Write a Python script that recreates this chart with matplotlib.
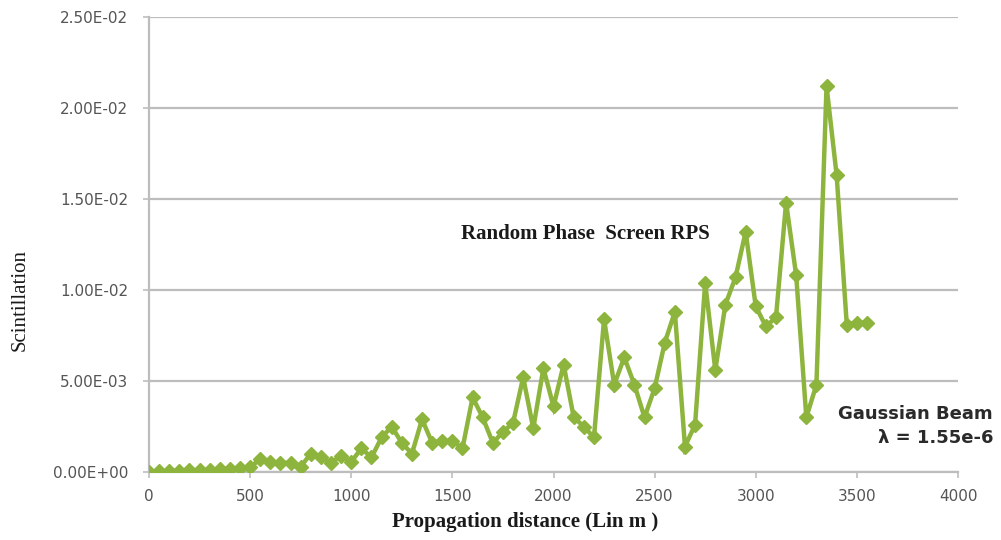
import matplotlib
matplotlib.use("Agg")
import matplotlib.pyplot as plt
from matplotlib.ticker import FuncFormatter, MultipleLocator

# Propagation distance (m) and scintillation index
distance = list(range(0, 3600, 50))
scintillation = [
    0.0, 0.00003, 0.00005, 0.00007, 0.0001, 0.0001, 0.00012, 0.00015, 0.00018, 0.0002,
    0.00027, 0.0007, 0.00055, 0.0005, 0.0005, 0.0003, 0.001, 0.0008, 0.0005, 0.0009,
    0.00055, 0.0013, 0.0008, 0.0019, 0.0025, 0.0016, 0.001, 0.0029, 0.0016, 0.0017,
    0.0017, 0.0013, 0.0041, 0.003, 0.0016, 0.0022, 0.0027, 0.0052, 0.0024, 0.0057,
    0.0036, 0.0059, 0.003, 0.0025, 0.0019, 0.0084, 0.0048, 0.0063, 0.0048, 0.003,
    0.0046, 0.0071, 0.0088, 0.0014, 0.0026, 0.0104, 0.0056, 0.0092, 0.0107, 0.0132,
    0.0091, 0.008, 0.0085, 0.0148, 0.0108, 0.003, 0.0048, 0.0212, 0.0163, 0.0081,
    0.0082, 0.0082,
]

x_ticks = [0, 500, 1000, 1500, 2000, 2500, 3000, 3500, 4000]

green = "#8db43c"
grid_grey = "#bdbdbd"
text_dark = "#1a1a1a"

fig = plt.figure(figsize=(10.01, 5.40), dpi=100)
ax = fig.add_axes([149 / 1001, (540 - 472) / 540, (958 - 149) / 1001, (472 - 17) / 540])

ax.plot(distance, scintillation, color=green, linewidth=3.2, marker="D",
        markersize=7, markerfacecolor=green, markeredgecolor=green, zorder=3,
        solid_joinstyle="miter")

ax.set_xlim(0, 4000)
ax.set_ylim(0, 0.025)
ax.set_xticks(x_ticks)
ax.yaxis.set_major_locator(MultipleLocator(0.005))
ax.yaxis.set_major_formatter(FuncFormatter(lambda v, pos: f"{v:.2E}"))
ax.grid(axis="y", color=grid_grey, linewidth=1.6)
ax.set_axisbelow(True)

for side in ("top", "right"):
    ax.spines[side].set_visible(False)
for side in ("left", "bottom"):
    ax.spines[side].set_color(grid_grey)
    ax.spines[side].set_linewidth(1.6)

ax.tick_params(axis="both", direction="out", length=4, width=1.2, color=grid_grey,
               labelcolor="#555555")
ax.tick_params(axis="y", pad=11)
ax.tick_params(axis="x", pad=8)
for lbl in ax.get_xticklabels() + ax.get_yticklabels():
    lbl.set_fontfamily("DejaVu Sans")
    lbl.set_fontsize(11)

fig.text(20 / 1001, (540 - 300) / 540, "Scintillation", rotation=90,
         ha="center", va="center", family="Liberation Serif", fontsize=15,
         color=text_dark)
fig.text(525 / 1001, (540 - 522) / 540, "Propagation distance (Lin m )",
         ha="center", va="center", family="Liberation Serif", fontsize=15,
         fontweight="bold", color=text_dark)

ax.text(2156, 0.0131, "Random Phase  Screen RPS", ha="center", va="center",
        family="Liberation Serif", fontsize=15, fontweight="bold", color=text_dark)

fig.text(993 / 1001, (540 - 414) / 540, "Gaussian Beam", ha="right", va="center",
         family="DejaVu Sans", fontsize=13, fontweight="bold", color="#2a2a2a")
fig.text(993 / 1001, (540 - 438) / 540, "\u03bb = 1.55e-6", ha="right", va="center",
         family="DejaVu Sans", fontsize=13, fontweight="bold", color="#2a2a2a")

fig.savefig("out.png", dpi=100)
